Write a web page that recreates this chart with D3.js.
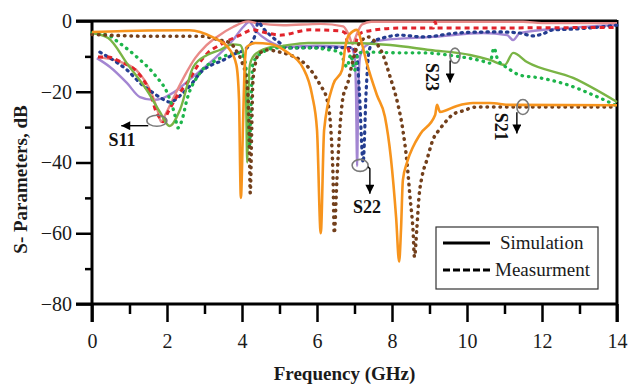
<!DOCTYPE html>
<html>
<head>
<meta charset="utf-8">
<script src="https://cdn.jsdelivr.net/npm/d3@7"></script>
<style>
  html, body { margin: 0; padding: 0; background: #fff; }
  svg { display: block; font-family: "Liberation Serif", "Times New Roman", serif; }
  .tick text { font-family: "Liberation Serif", "Times New Roman", serif; font-size: 20px; fill: #1a1a1a; }
  .tick line { stroke: #000; stroke-width: 2.5; }
  .domain { display: none; }
</style>
</head>
<body>
<svg id="chart" width="628" height="386"></svg>
<script>
// axis ticks
const xMajor = [0, 2, 4, 6, 8, 10, 12, 14];
const xMinor = [1, 3, 5, 7, 9, 11, 13];
const yMajor = [0, -20, -40, -60, -80];
const yMinor = [-10, -30, -50, -70];

// [GHz, dB]
const s21Sim = [[0,-3.1],[1.5,-2.7],[2.6,-2.6],[3.2,-4.5],[3.68,-8.2],[3.85,-12.4],[3.92,-22],[3.97,-50],[4.03,-28],[4.08,-11],[4.13,-7.3],[4.35,-6.2],[4.75,-6.5],[5.2,-8.8],[5.63,-13.3],[5.87,-21],[6.0,-30.8],[6.1,-60],[6.19,-30.8],[6.43,-18],[6.67,-13.8],[6.75,-7.6],[6.85,-4],[7.07,-2.5],[7.2,-6.5],[7.33,-12],[7.6,-21],[7.81,-27],[7.97,-38.7],[8.11,-55.6],[8.19,-68],[8.24,-59],[8.29,-45],[8.4,-40],[8.56,-35.6],[8.75,-32],[9.15,-26.6],[9.2,-23.7],[9.28,-25.7],[9.73,-24],[10.16,-23.2],[10.61,-23.2],[11.15,-23.7],[14,-23.8]];
const s21Meas = [[0,-3.8],[1.5,-4.3],[2.88,-4.3],[3.41,-5.4],[3.68,-6.2],[3.87,-8.8],[4.0,-11.6],[4.13,-17.2],[4.19,-30],[4.22,-48.6],[4.26,-30],[4.29,-17.2],[4.35,-12.4],[4.43,-9.6],[4.67,-8.2],[5.01,-8.8],[5.28,-9.6],[5.55,-11],[5.89,-14.7],[6.08,-18],[6.27,-22.3],[6.37,-30.8],[6.43,-45],[6.46,-60],[6.53,-45],[6.61,-30.2],[6.69,-21.8],[6.83,-17.2],[6.93,-12.4],[7.04,-8.2],[7.2,-5.4],[7.36,-4.5],[7.55,-5.9],[7.73,-8.8],[7.95,-15.8],[8.16,-23.7],[8.29,-30.8],[8.4,-40],[8.48,-49.7],[8.56,-59],[8.6,-66.7],[8.66,-59],[8.72,-49.7],[8.8,-44],[8.93,-39.3],[9.09,-33.6],[9.28,-30.5],[9.47,-28],[9.6,-26.6],[9.89,-25.4],[10.27,-24.3],[10.88,-24.3],[14,-24.3]];
const s23Sim = [[0,-3.4],[0.43,-4.8],[0.96,-12.4],[1.49,-20],[1.81,-25.7],[2.07,-29.7],[2.35,-25],[2.7,-13],[3.07,-9.6],[3.41,-8.2],[3.76,-6.6],[3.95,-6.8],[4.03,-8.8],[4.08,-12.4],[4.11,-22],[4.14,-40],[4.17,-22],[4.21,-12.4],[4.29,-10.2],[4.48,-8.5],[4.69,-7.6],[5.04,-7.1],[5.76,-6.2],[6.9,-6.2],[7.95,-6.8],[9.01,-8.2],[10.08,-9.6],[10.61,-11],[11.01,-12.4],[11.23,-9],[11.6,-11.6],[12.83,-16.1],[14,-22.9]];
const s23Meas = [[0,-3.4],[0.43,-4],[0.69,-5.9],[1.23,-10.5],[1.68,-15.3],[2.03,-20.9],[2.21,-26.6],[2.29,-30.2],[2.4,-28],[2.53,-22.3],[2.88,-14.7],[3.33,-11],[3.95,-9],[4.07,-11],[4.15,-20],[4.2,-36],[4.25,-20],[4.29,-12],[4.56,-8.8],[4.93,-7.6],[5.81,-7.6],[6.35,-8.2],[6.61,-8.8],[6.8,-13],[6.9,-9.5],[7.0,-14],[7.1,-9],[7.41,-8.8],[8.21,-9],[8.83,-9],[9.47,-9.6],[10.4,-11.3],[10.61,-11.9],[10.72,-7.6],[10.82,-11],[10.96,-12.4],[11.15,-13.8],[11.41,-15.3],[11.95,-16.1],[12.67,-18],[13.36,-20.9],[14,-24]];
const s11Sim = [[0.16,-10.2],[0.77,-11.6],[1.23,-14.4],[1.57,-20],[1.76,-25.7],[1.84,-28.5],[1.95,-26.6],[2.21,-20.9],[2.48,-15.3],[2.75,-10.5],[3.01,-7.3],[3.33,-4.5],[3.76,-1.7],[4.16,-0.1],[4.4,-0.6],[5.1,-1.2],[6.1,-0.8],[6.7,-1.5],[6.85,-4],[6.95,-6.5],[7.05,-4],[7.2,-1],[7.45,-0.2],[11.5,-0.2],[12,-0.6],[14,-0.6]];
const s11Meas = [[0.16,-10.2],[0.43,-10.2],[0.77,-11.6],[1.23,-14.7],[1.57,-20.9],[1.71,-25.7],[1.81,-27.4],[1.89,-28.5],[2.03,-25.7],[2.29,-20.9],[2.56,-17.2],[2.83,-12.4],[3.09,-9],[3.41,-6.8],[3.95,-4],[4.29,-2.5],[4.67,-3.4],[5.01,-4],[5.81,-2.5],[6.61,-2.8],[6.75,-3.4],[6.83,-7.6],[6.93,-10.5],[7.01,-8.8],[7.07,-4.8],[7.23,-3.1],[8.21,-2],[9.1,-2],[9.15,-0.2],[9.2,-2],[14,-1.8]];
const s22Sim = [[0.13,-10.5],[0.48,-13],[0.93,-17.5],[1.28,-21.5],[1.63,-22.3],[1.89,-21.8],[2.16,-20.3],[2.69,-15.8],[3.23,-11],[3.76,-5.4],[4.03,-1.7],[4.19,-0.3],[4.4,-3.1],[4.67,-5.4],[4.93,-6.8],[5.2,-7.3],[6.0,-7.0],[6.9,-7.5],[7.0,-10],[7.04,-20],[7.07,-41],[7.1,-20],[7.15,-10],[7.3,-7],[7.76,-5.4],[9.09,-4.5],[10.43,-3.4],[11.07,-4],[11.23,-5.4],[11.41,-3.4],[12.67,-2],[14,-1.1]];
const s22Meas = [[0.21,-8.8],[0.56,-11],[0.93,-13.8],[1.28,-17.5],[1.63,-20.3],[1.84,-21.8],[2.08,-22.9],[2.37,-20.9],[2.64,-18],[2.91,-14.4],[3.23,-12.2],[3.41,-11.5],[3.76,-9.5],[4.13,-7.6],[4.35,-4],[4.43,-0.3],[4.56,-2],[4.75,-4],[5.01,-6.2],[5.2,-7.6],[6.0,-7.5],[6.9,-7.5],[7.05,-9],[7.13,-20],[7.23,-40],[7.31,-20],[7.38,-9],[7.49,-5.9],[7.76,-4.8],[8.21,-4],[8.83,-4.5],[9.73,-3.4],[10.61,-3.1],[10.88,-3.1],[11.4,-3.4],[11.76,-4.2],[12.03,-3.6],[12.3,-2.5],[12.83,-2.3],[13.55,-1.7],[14,-1.2]];

const legendNames = ["Simulation", "Measurment"];

const width = 628, height = 386;
const margin = { top: 21, right: 11, bottom: 82, left: 92 };

const svg = d3.select("#chart");

const x = d3.scaleLinear().domain([0, 14]).range([margin.left, width - margin.right]);
const y = d3.scaleLinear().domain([-80, 0]).range([height - margin.bottom, margin.top]);

const x0 = x(0), x1 = x(14), yTop = y(0), yBot = y(-80);

// ticks
const axes = svg.append("g").attr("class", "axes");
axes.append("g")
  .attr("transform", `translate(0,${yBot})`)
  .call(d3.axisBottom(x).tickValues(xMinor).tickSize(10).tickFormat(() => ""));
axes.append("g")
  .attr("transform", `translate(0,${yBot})`)
  .call(d3.axisBottom(x).tickValues(xMajor).tickSize(18).tickPadding(12).tickFormat(d3.format("d")));
axes.append("g")
  .attr("transform", `translate(${x0},0)`)
  .call(d3.axisLeft(y).tickValues(yMinor).tickSize(7).tickFormat(() => ""));
axes.append("g")
  .attr("transform", `translate(${x0},0)`)
  .call(d3.axisLeft(y).tickValues(yMajor).tickSize(16).tickPadding(4).tickFormat(d3.format("d")));
// drop d3's default sans-serif so the serif face is used
axes.selectAll("g").attr("font-family", null).attr("font-size", null);

// frame
const frame = svg.append("g").attr("stroke", "#000").attr("stroke-width", 3);
frame.append("line").attr("x1", x0).attr("x2", x0).attr("y1", yTop - 1).attr("y2", yBot + 18);
frame.append("line").attr("x1", x0 - 16).attr("x2", x1).attr("y1", yBot).attr("y2", yBot);
frame.append("line").attr("x1", x0 - 16).attr("x2", x1).attr("y1", yTop).attr("y2", yTop);
frame.append("line").attr("x1", x1).attr("x2", x1).attr("y1", yTop - 1).attr("y2", yBot + 18);

// curves
const line = d3.line()
  .x(d => x(d[0]))
  .y(d => y(d[1]))
  .curve(d3.curveMonotoneX);

const series = [
  { data: s22Sim, color: "#a386d2", w: 2.4, dash: null },
  { data: s11Sim, color: "#e98a88", w: 2.4, dash: null },
  { data: s22Meas, color: "#243d90", w: 3.2, dash: "1.5 5", cap: "round" },
  { data: s11Meas, color: "#e1232b", w: 3, dash: "5 4" },
  { data: s23Sim, color: "#7ab445", w: 2.4, dash: null },
  { data: s23Meas, color: "#1db54b", w: 3.3, dash: "0.5 6", cap: "round" },
  { data: s21Meas, color: "#73401c", w: 3.5, dash: "0.5 6", cap: "round" },
  { data: s21Sim, color: "#f7941d", w: 2.6, dash: null }
];

svg.append("g")
  .selectAll("path")
  .data(series)
  .join("path")
  .attr("fill", "none")
  .attr("stroke", d => d.color)
  .attr("stroke-width", d => d.w)
  .attr("stroke-dasharray", d => d.dash)
  .attr("stroke-linecap", d => d.cap || "butt")
  .attr("stroke-linejoin", "round")
  .attr("d", d => line(d.data));

// annotations
svg.append("defs").append("marker")
  .attr("id", "head")
  .attr("markerUnits", "userSpaceOnUse")
  .attr("viewBox", "0 0 10 10")
  .attr("refX", 10).attr("refY", 5)
  .attr("markerWidth", 10).attr("markerHeight", 9)
  .attr("orient", "auto")
  .append("path").attr("d", "M0,0L10,5L0,10z").attr("fill", "#000");

const notes = svg.append("g");

function ellipse(f, db, rx, ry) {
  notes.append("ellipse")
    .attr("cx", x(f)).attr("cy", y(db)).attr("rx", rx).attr("ry", ry)
    .attr("fill", "none").attr("stroke", "#7a7a7a").attr("stroke-width", 1.6);
}
function arrow(pts) {
  notes.append("path")
    .attr("d", d3.line().x(p => x(p[0])).y(p => y(p[1]))(pts))
    .attr("fill", "none").attr("stroke", "#000").attr("stroke-width", 1.4)
    .attr("marker-end", "url(#head)");
}
function label(text, f, db, rot) {
  notes.append("text")
    .attr("transform", `translate(${x(f)},${y(db)}) rotate(${rot})`)
    .attr("text-anchor", "middle")
    .attr("dominant-baseline", rot ? "central" : "auto")
    .attr("font-size", 18).attr("font-weight", "bold").attr("fill", "#111")
    .text(text);
}

ellipse(1.73, -28.2, 10, 5.5);
arrow([[1.5, -29.6], [0.78, -29.6]]);
label("S11", 0.8, -35.3, 0);

ellipse(7.15, -40.8, 8, 6);
arrow([[7.36, -41.2], [7.41, -41.8], [7.41, -48.8]]);
label("S22", 7.33, -54.2, 0);

ellipse(9.68, -9.8, 5, 7.5);
arrow([[9.55, -11.2], [9.55, -17.4]]);
label("S23", 9.07, -15.8, 90);

ellipse(11.49, -24.3, 6, 7.5);
arrow([[11.33, -25.8], [11.33, -31.8]]);
label("S21", 10.9, -29.9, 90);

// axis titles
svg.append("text")
  .attr("transform", `translate(27,${(yTop + yBot) / 2 + 17}) rotate(-90)`)
  .attr("text-anchor", "middle")
  .attr("font-size", 19).attr("font-weight", "bold").attr("fill", "#1a1a1a")
  .text("S- Parameters, dB");

svg.append("text")
  .attr("x", (x0 + x1) / 2 - 10).attr("y", 380)
  .attr("text-anchor", "middle")
  .attr("font-size", 19).attr("font-weight", "bold").attr("fill", "#1a1a1a")
  .text("Frequency (GHz)");

// legend
const legend = svg.append("g").attr("transform", "translate(436,227)");
legend.append("rect")
  .attr("width", 162).attr("height", 62)
  .attr("fill", "#fff").attr("stroke", "#333").attr("stroke-width", 1.2);
legend.selectAll("line.key")
  .data(legendNames)
  .join("line")
  .attr("class", "key")
  .attr("x1", 7).attr("x2", (d, i) => i ? 57 : 54)
  .attr("y1", (d, i) => 16 + i * 27).attr("y2", (d, i) => 16 + i * 27)
  .attr("stroke", "#000").attr("stroke-width", 3.2)
  .attr("stroke-dasharray", (d, i) => i ? "7 3" : null);
legend.selectAll("text")
  .data(legendNames)
  .join("text")
  .attr("x", (d, i) => i ? 59 : 64)
  .attr("y", (d, i) => 22 + i * 27)
  .attr("font-size", 19).attr("fill", "#1a1a1a")
  .text(d => d);
</script>
</body>
</html>
